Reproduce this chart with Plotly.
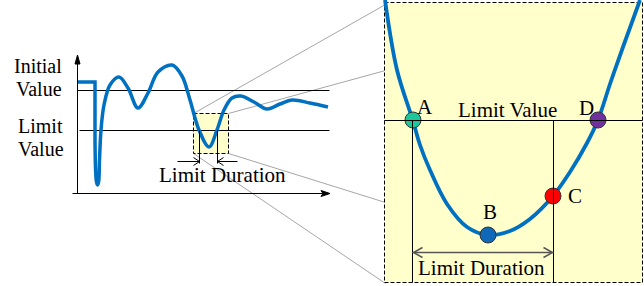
import plotly.graph_objects as go

W, H = 644, 286
FONT = "Liberation Serif"
CURVE = "#0070c0"
PANEL_FILL = "#ffffcc"

# ---- Left overview waveform (pixel units) ----
flat_x = [77, 95, 95]
flat_y = [82, 82, 140]
wave_x = [95, 95.6, 96.5, 97.5, 98.6, 99.5, 101, 104, 110, 119, 128, 138, 148, 158, 172,
          182, 190, 199, 209, 217, 224, 232, 241, 254, 267, 280, 292, 310, 328]
wave_y = [140, 170, 182, 185, 182, 160, 130, 105, 85, 77, 88, 108, 93, 72, 65,
          76, 100, 130, 147, 130, 110, 98, 96, 102, 109, 104, 100, 103, 107]
initial_level = 90
limit_level_left = 130

# ---- Zoomed detail curve ----
zoom_x = [385, 397, 413, 420, 430, 447, 467, 488, 510, 530, 553, 570, 587, 598, 610, 623, 640]
zoom_y = [0, 70, 121, 145, 170, 204, 227, 235, 231, 219, 196, 172, 143, 120, 84, 47, 0]
limit_level_right = 120

# ---- Points A-D ----
pt_names = ["A", "B", "C", "D"]
pt_x = [413, 488, 553, 598]
pt_y = [120, 235, 196, 120]
pt_colors = ["#1cc79a", "#0f68b8", "#ff0000", "#7030a0"]
lbl_x = [425, 490, 575, 586]
lbl_y = [107, 212, 196, 108]

# ---- Geometry of boxes ----
small_box = [193, 113, 228, 153]   # x0, y0, x1, y1
big_box = [384, 2, 642, 282]

fig = go.Figure()
shapes = []
h = 0.5  # half-pixel offset for crisp 1px lines

def line(x0, y0, x1, y1, color="black", width=1, dash=None, layer="above"):
    d = dict(type="line", x0=x0 + h, y0=y0 + h, x1=x1 + h, y1=y1 + h, xref="x", yref="y",
             line=dict(color=color, width=width), layer=layer)
    if dash:
        d["line"]["dash"] = dash
    shapes.append(d)

def path(p, color="black", width=1, fill=None, layer="above"):
    d = dict(type="path", path=p, xref="x", yref="y",
             line=dict(color=color, width=width), layer=layer)
    if fill:
        d["fillcolor"] = fill
    shapes.append(d)

def rect(b):
    shapes.append(dict(type="rect", x0=b[0] + h, y0=b[1] + h, x1=b[2] + h, y1=b[3] + h,
                       xref="x", yref="y", fillcolor=PANEL_FILL,
                       line=dict(color="black", width=1, dash="4px,2px"), layer="below"))

# projection lines (below panels)
gray = "#a6a6a6"
line(small_box[0], small_box[1], big_box[0] + 1, 4, gray, 1, layer="below")
line(small_box[2], small_box[1], big_box[0] + 1, 70, gray, 1, layer="below")
line(small_box[2], small_box[3], big_box[0] + 1, 202, gray, 1, layer="below")
line(small_box[0], small_box[3], big_box[0] + 1, 283, gray, 1, layer="below")

rect(small_box)
rect(big_box)

# left axes
line(77, 60, 77, 193)
line(72, 193, 326, 193)
path("M 77.5 55 L 75 64 L 80 64 Z", fill="black")
path("M 330 193.5 L 321 190.5 L 323 193.5 L 321 196.5 Z", fill="black")

# left level lines
line(77, initial_level, 329, initial_level, layer="below")
line(79, limit_level_left, 329, limit_level_left, layer="below")

# left limit duration markers
line(199, limit_level_left, 199, 163)
line(217, limit_level_left, 217, 163)
line(177, 161, 199, 161)
path("M 193.5 157.5 L 199.5 161.5 L 193.5 165.5")
line(217, 161, 237, 161)
path("M 223.5 157.5 L 217.5 161.5 L 223.5 165.5")

# right panel lines
line(big_box[0], limit_level_right, big_box[2], limit_level_right)
line(412, limit_level_right, 412, big_box[3])
line(553, limit_level_right, 553, big_box[3])
arr = "#555555"
line(413, 252, 552, 252, arr, 1.5)
path("M 422.5 247.5 L 413.5 252.5 L 422.5 257.5", arr, 1.5)
path("M 543.5 247.5 L 552.5 252.5 L 543.5 257.5", arr, 1.5)

# curves
fig.add_trace(go.Scatter(x=flat_x, y=flat_y, mode="lines",
                         line=dict(color=CURVE, width=3.5), hoverinfo="skip"))
fig.add_trace(go.Scatter(x=wave_x, y=wave_y, mode="lines",
                         line=dict(color=CURVE, width=3.5, shape="spline", smoothing=1.0),
                         hoverinfo="skip"))
fig.add_trace(go.Scatter(x=zoom_x, y=zoom_y, mode="lines",
                         line=dict(color=CURVE, width=3.8, shape="spline", smoothing=1.0),
                         hoverinfo="skip"))
fig.add_trace(go.Scatter(x=pt_x, y=pt_y, mode="markers",
                         marker=dict(size=16, color=pt_colors, line=dict(color="#333333", width=1)),
                         hoverinfo="skip"))

annotations = []
def text(t, x, y, size=21):
    annotations.append(dict(text=t, x=x, y=y, xref="x", yref="y", showarrow=False,
                            xanchor="center", yanchor="middle",
                            font=dict(family=FONT, size=size, color="black")))

text("Initial", 38, 66, 20)
text("Value", 39, 89, 20)
text("Limit", 40, 126, 20)
text("Value", 41, 149, 20)
text("Limit Duration", 222, 175)
text("Limit Value", 507, 110)
text("Limit Duration", 481, 268)
for n, x, y in zip(pt_names, lbl_x, lbl_y):
    text(n, x, y)

fig.update_layout(
    width=W, height=H, margin=dict(l=0, r=0, t=0, b=0),
    paper_bgcolor="white", plot_bgcolor="white", showlegend=False,
    xaxis=dict(range=[0, W], visible=False, fixedrange=True),
    yaxis=dict(range=[H, 0], visible=False, fixedrange=True),
    shapes=shapes, annotations=annotations,
)
fig.write_html("out.html", config={"displayModeBar": False})
